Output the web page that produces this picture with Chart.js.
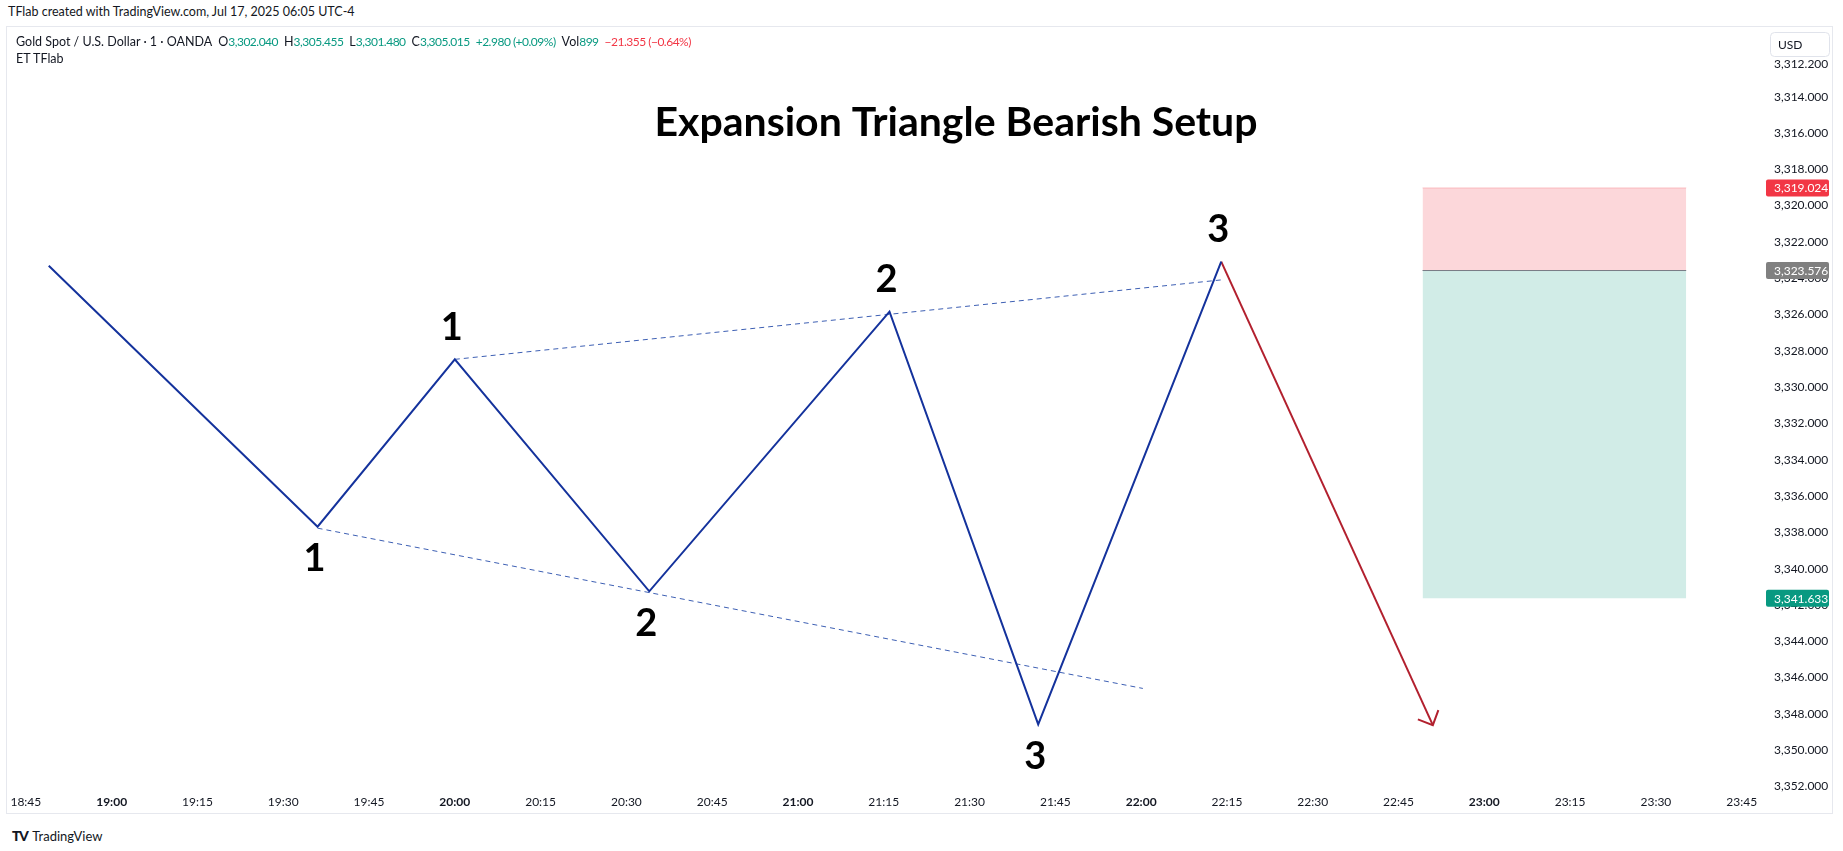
<!DOCTYPE html>
<html>
<head>
<meta charset="utf-8">
<script src="https://cdn.jsdelivr.net/npm/chart.js@4.4.1/dist/chart.umd.min.js"></script>
<style>
  body { margin:0; background:#fff; width:1843px; height:851px; overflow:hidden; position:relative;
         font-family: Lato, "Noto Sans", sans-serif; color:#131722; }
  #created { position:absolute; left:8px; top:4px; font-size:12.5px; }
  #frame { position:absolute; left:6px; top:26px; width:1827px; height:788px; border:1px solid #e6e8ee; box-sizing:border-box; }
  #wrap { position:absolute; left:7px; top:27px; width:1825px; height:786px; }
  #legend { position:absolute; left:16px; top:33px; font-size:12.5px; line-height:17px; }
  #legend .g { color:#089981; }
  #legend .r { color:#f23645; }
  #legend .sp { margin-left:6px; }
  #legend .n { font-size:12px; letter-spacing:-0.5px; }
  #footer { position:absolute; left:12px; top:827px; font-size:13px; }
  #footer b { font-size:14px; font-weight:900; letter-spacing:-1.5px; margin-right:5px; }
</style>
</head>
<body>
<div id="created">TFlab created with TradingView.com, Jul 17, 2025 06:05 UTC-4</div>
<div id="frame"></div>
<div id="wrap"><canvas id="chart" width="1825" height="786"></canvas></div>
<div id="legend">
  <div>Gold Spot / U.S. Dollar · 1 · OANDA<span class="sp">O</span><span class="g n">3,302.040</span><span class="sp">H</span><span class="g n">3,305.455</span><span class="sp">L</span><span class="g n">3,301.480</span><span class="sp">C</span><span class="g n">3,305.015</span><span class="g sp n">+2.980 (+0.09%)</span><span class="sp">Vol</span><span class="g n">899</span><span class="r sp n">−21.355 (−0.64%)</span></div>
  <div>ET TFlab</div>
</div>
<div id="footer"><b>TV</b>TradingView</div>
<script>
// wave points (minutes since midnight, price)
const waveTimes = [1129, 1176, 1200, 1234, 1276, 1302, 1334];
const wavePrices = [3323.31, 3337.69, 3328.47, 3341.25, 3325.84, 3348.58, 3323.09];
const waveLabels = ['', '1', '1', '2', '2', '3', '3'];

const arrowTimes = [1334, 1371];
const arrowPrices = [3323.09, 3348.62];

const upperTimes = [1200, 1334.4];
const upperPrices = [3328.47, 3324.08];
const lowerTimes = [1176, 1320.3];
const lowerPrices = [3337.77, 3346.6];

const boxTimes = [1369.2, 1415.3];
const stopPrice = 3319.024;
const entryPrice = 3323.576;
const targetPrice = 3341.633;

const xTickLabels = ['18:45','19:00','19:15','19:30','19:45','20:00','20:15','20:30','20:45','21:00',
  '21:15','21:30','21:45','22:00','22:15','22:30','22:45','23:00','23:15','23:30','23:45'];
const yTickValues = [3312.2, 3314, 3316, 3318, 3320, 3322, 3324, 3326, 3328, 3330, 3332, 3334,
  3336, 3338, 3340, 3342, 3344, 3346, 3348, 3350, 3352];

const title = 'Expansion Triangle Bearish Setup';

function toMin(s) {
  let p = s.split(':');
  return (+p[0]) * 60 + (+p[1]);
}
function toHHMM(v) {
  let h = Math.floor(v / 60), m = Math.round(v % 60);
  return String(h).padStart(2, '0') + ':' + String(m).padStart(2, '0');
}
function fmtPrice(v) {
  return v.toLocaleString('en-US', { minimumFractionDigits: 3, maximumFractionDigits: 3 });
}
function pts(xs, ys) {
  return xs.map((x, i) => ({ x: x, y: ys[i] }));
}

const FONT = 'Lato, "Noto Sans", sans-serif';

const overlay = {
  id: 'overlay',
  afterDatasetsDraw(chart) {
    const ctx = chart.ctx;
    const x = chart.scales.x, y = chart.scales.y;
    ctx.save();

    // arrow head
    let x1 = x.getPixelForValue(arrowTimes[0]), y1 = y.getPixelForValue(arrowPrices[0]);
    let x2 = x.getPixelForValue(arrowTimes[1]), y2 = y.getPixelForValue(arrowPrices[1]);
    let a = Math.atan2(y1 - y2, x1 - x2);
    ctx.strokeStyle = '#b2202e';
    ctx.lineWidth = 2;
    ctx.beginPath();
    ctx.moveTo(x2 + 16 * Math.cos(a - 0.78), y2 + 16 * Math.sin(a - 0.78));
    ctx.lineTo(x2, y2);
    ctx.lineTo(x2 + 16 * Math.cos(a + 0.78), y2 + 16 * Math.sin(a + 0.78));
    ctx.stroke();

    // wave numbers
    ctx.fillStyle = '#000';
    ctx.font = 'bold 38px ' + FONT;
    ctx.textAlign = 'center';
    ctx.textBaseline = 'middle';
    for (let i = 0; i < waveTimes.length; i++) {
      if (!waveLabels[i]) continue;
      let px = x.getPixelForValue(waveTimes[i]);
      let py = y.getPixelForValue(wavePrices[i]);
      let prev = wavePrices[i - 1];
      let up = wavePrices[i] < prev; // reversed axis: lower price sits higher
      ctx.fillText(waveLabels[i], px - 3, up ? py - 32 : py + 32);
    }

    // title
    ctx.font = 'bold 41px ' + FONT;
    ctx.textBaseline = 'alphabetic';
    ctx.fillText(title, 949, 109, 617);
    ctx.restore();
  },
  afterDraw(chart) {
    const ctx = chart.ctx;
    const y = chart.scales.y;
    ctx.save();
    ctx.font = '12px ' + FONT;
    ctx.textBaseline = 'middle';
    ctx.textAlign = 'left';
    [[stopPrice, '#f23645'], [entryPrice, '#808080'], [targetPrice, '#089981']].forEach(p => {
      let py = y.getPixelForValue(p[0]);
      ctx.fillStyle = p[1];
      ctx.beginPath();
      ctx.roundRect(1759, py - 8.5, 63, 17, 2);
      ctx.fill();
      ctx.fillStyle = '#fff';
      ctx.fillText(fmtPrice(p[0]), 1767, py + 0.5);
    });
    // currency box
    ctx.fillStyle = '#fff';
    ctx.strokeStyle = '#e0e3eb';
    ctx.lineWidth = 1;
    ctx.beginPath();
    ctx.roundRect(1763.5, 5.5, 59, 24, 4);
    ctx.fill();
    ctx.stroke();
    ctx.fillStyle = '#131722';
    ctx.fillText('USD', 1771, 18);
    ctx.restore();
  }
};

new Chart(document.getElementById('chart'), {
  type: 'line',
  data: {
    datasets: [
      {
        data: pts(waveTimes, wavePrices),
        borderColor: '#14329c',
        borderWidth: 2
      },
      {
        data: pts(arrowTimes, arrowPrices),
        borderColor: '#b2202e',
        borderWidth: 2
      },
      {
        data: pts(upperTimes, upperPrices),
        borderColor: '#3d5fb3',
        borderWidth: 1,
        borderDash: [5, 4]
      },
      {
        data: pts(lowerTimes, lowerPrices),
        borderColor: '#3d5fb3',
        borderWidth: 1,
        borderDash: [5, 4]
      },
      {
        data: pts(boxTimes, [entryPrice, entryPrice]),
        borderColor: '#787b86',
        borderWidth: 1
      },
      {
        data: pts(boxTimes, [stopPrice, stopPrice]),
        borderColor: 'rgba(242,54,69,0.25)',
        borderWidth: 1,
        backgroundColor: 'rgba(242,54,69,0.2)',
        fill: { value: entryPrice }
      },
      {
        data: pts(boxTimes, [targetPrice, targetPrice]),
        borderColor: 'rgba(8,153,129,0)',
        borderWidth: 0,
        backgroundColor: 'rgba(8,153,129,0.19)',
        fill: { value: entryPrice }
      }
    ]
  },
  options: {
    responsive: false,
    animation: false,
    layout: { padding: 0 },
    elements: {
      point: { radius: 0, hoverRadius: 0 },
      line: { tension: 0 }
    },
    plugins: {
      legend: { display: false },
      tooltip: { enabled: false }
    },
    scales: {
      x: {
        type: 'linear',
        min: 1121.7,
        max: 1428.9,
        grid: { display: false, drawTicks: false },
        border: { display: false },
        afterBuildTicks: s => { s.ticks = xTickLabels.map(t => ({ value: toMin(t) })); },
        afterFit: s => { s.height = 28; s.paddingLeft = 0; s.paddingRight = 0; },
        ticks: {
          autoSkip: false,
          maxRotation: 0,
          padding: 10,
          color: '#131722',
          font: c => ({ family: FONT, size: 12, weight: (c.tick && c.tick.value % 60 === 0) ? 'bold' : 'normal' }),
          callback: v => toHHMM(v)
        }
      },
      y: {
        type: 'linear',
        position: 'right',
        reverse: true,
        min: 3310.16,
        max: 3351.92,
        grid: { display: false, drawTicks: false },
        border: { display: false },
        afterBuildTicks: s => { s.ticks = yTickValues.map(v => ({ value: v })); },
        afterFit: s => { s.width = 68; s.paddingTop = 0; s.paddingBottom = 0; },
        ticks: {
          padding: 10,
          color: '#131722',
          font: { family: FONT, size: 12 },
          callback: v => fmtPrice(v)
        }
      }
    }
  },
  plugins: [overlay]
});
</script>
</body>
</html>
